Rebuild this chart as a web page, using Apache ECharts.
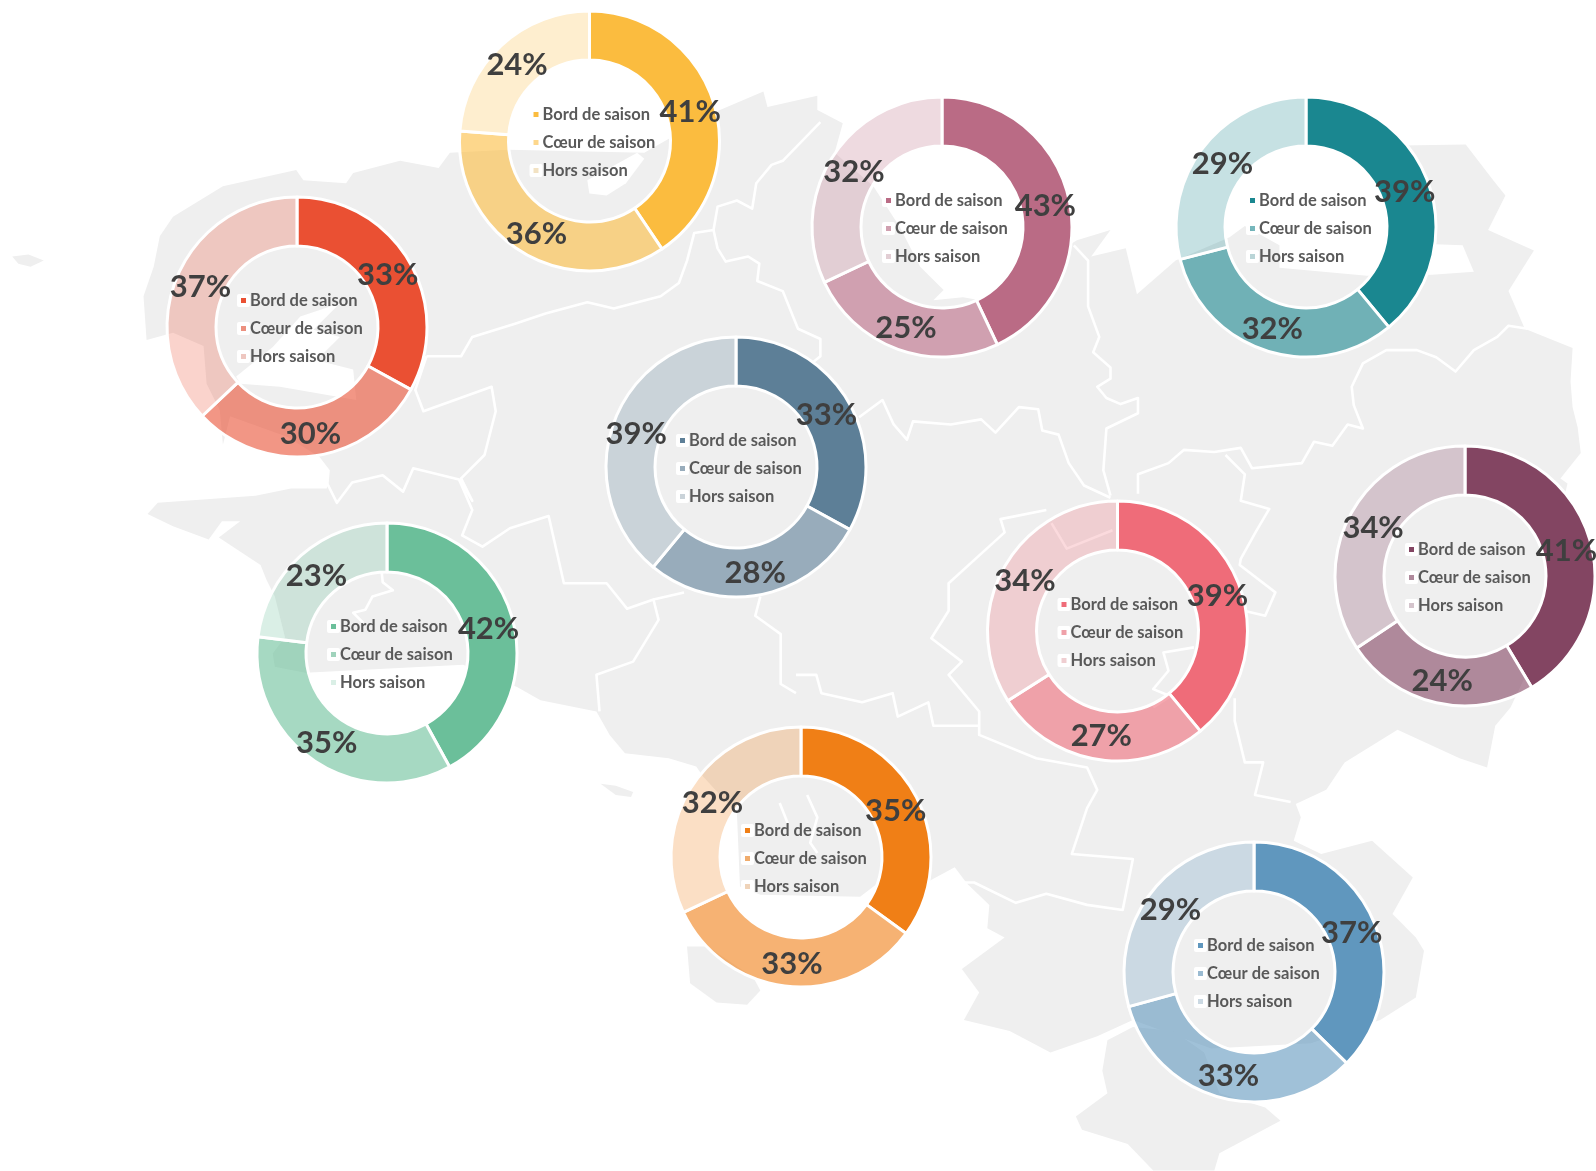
<!DOCTYPE html>
<html lang="fr">
<head>
<meta charset="utf-8">
<style>html,body{margin:0;padding:0;background:#fff}#c{width:1596px;height:1171px}</style>
<script src="https://cdn.jsdelivr.net/npm/echarts@6/dist/echarts.min.js"></script>
</head>
<body>
<div id="c"></div>
<script>
// ---- data ----
const categories = ['Bord de saison', 'Cœur de saison', 'Hors saison'];
const red    = [33, 30, 37];
const yellow = [41, 36, 24];
const rose   = [43, 25, 32];
const teal   = [39, 32, 29];
const slate  = [33, 28, 39];
const green  = [42, 35, 23];
const pink   = [39, 27, 34];
const plum   = [41, 24, 34];
const orange = [35, 33, 32];
const blue   = [37, 33, 29];

// ---- layout and styling of each donut ----
const S = 1596 / 1568;           // traced in the 1568-wide view
const donuts = [
  {v: red,    c: [234, 80, 51],   at: [297, 327],   lab: [[381,270],[305,426],[197,282]]},
  {v: yellow, c: [251, 188, 63],  at: [589.5, 141], lab: [[678,110],[527,230],[508,64]]},
  {v: rose,   c: [186, 107, 133], at: [942, 227],   lab: [[1027,202],[890,322],[839,169]]},
  {v: teal,   c: [26, 135, 144],  at: [1306, 227],  lab: [[1380,189],[1250,323],[1201,161]]},
  {v: slate,  c: [93, 127, 151],  at: [736, 467],   lab: [[812,408],[742,563],[625,426]]},
  {v: green,  c: [107, 191, 154], at: [387, 653],   lab: [[480,618],[321,730],[311,566]]},
  {v: pink,   c: [239, 108, 121], at: [1117.5, 631],lab: [[1196,586],[1082,723],[1007,571]]},
  {v: plum,   c: [131, 69, 98],   at: [1465, 576],  lab: [[1539,541],[1417,669],[1349,519]]},
  {v: orange, c: [240, 127, 22],  at: [801, 857],   lab: [[880,797],[778,947],[700,789]]},
  {v: blue,   c: [96, 151, 190],  at: [1254, 972],  lab: [[1328,917],[1207,1057],[1150,894]]}
];
const alphas = [1, 0.6, 0.25];
const FONT = 'Lato,sans-serif';

// ---- decorative background map, traced ----
const mainland = [[141,291],[151,262],[157,232],[170,213],[219,183],[291,167],[298,177],[340,180],[347,170],[393,158],[431,165],[442,150],[500,147],[633,150],[705,109],[750,90],[754,105],[803,94],[803,108],[828,121],[820,150],[858,183],[884,223],[904,262],[927,285],[917,295],[946,292],[963,295],[1058,236],[1091,226],[1072,252],[1106,244],[1117,289],[1155,256],[1208,233],[1223,222],[1257,241],[1257,263],[1343,271],[1407,270],[1448,267],[1437,241],[1410,240],[1390,200],[1377,143],[1440,142],[1467,177],[1479,192],[1462,226],[1507,246],[1482,286],[1498,323],[1545,342],[1543,375],[1545,400],[1550,420],[1553,445],[1533,470],[1540,475],[1520,560],[1510,640],[1484,695],[1469,713],[1461,754],[1434,745],[1373,717],[1321,749],[1303,776],[1273,790],[1278,803],[1271,826],[1298,839],[1348,826],[1388,862],[1368,898],[1391,921],[1399,934],[1391,980],[1356,1002],[1288,1025],[1190,1030],[1113,1002],[1078,1018],[1032,1034],[992,1013],[947,1002],[962,975],[945,952],[987,921],[970,912],[972,889],[950,868],[938,852],[912,866],[862,868],[845,881],[747,879],[727,871],[724,799],[691,763],[684,753],[657,745],[614,740],[599,722],[586,699],[531,688],[508,675],[455,653],[300,661],[270,655],[268,642],[280,626],[270,586],[262,570],[256,555],[215,528],[236,512],[218,512],[205,530],[170,517],[145,505],[155,494],[251,487],[286,480],[321,480],[323,474],[324,462],[314,449],[282,429],[226,409],[219,437],[216,403],[203,377],[200,340],[170,327],[144,334]];
const south = [[1088,1022],[1113,1009],[1153,1013],[1183,1034],[1198,1074],[1243,1088],[1258,1101],[1198,1133],[1193,1150],[1133,1150],[1108,1124],[1063,1110],[1057,1097],[1088,1074],[1083,1052]];
const corsica = [[675,930],[695,930],[740,960],[747,973],[734,987],[704,985],[678,966]];
const isle1 = [[590,770],[605,772],[622,778],[620,783],[605,781]];
const isle2 = [[12,252],[28,250],[43,256],[30,262],[18,259]];
const whiteShapes = [
  [[577,177],[626,150],[633,156],[615,180],[596,192],[579,190]],
  [[232,370],[268,341],[295,311],[334,298],[308,324],[334,331],[311,354],[347,363],[350,393],[275,380],[236,377]]
];
const borders = [
  [[419,350],[453,350],[464,331],[506,318],[536,308],[577,297],[603,303],[649,291],[667,278],[675,256],[682,229],[701,226],[705,203],[724,197],[739,205],[743,180],[758,162],[769,158],[806,120]],
  [[701,226],[705,244],[713,257],[735,252],[746,259],[744,276],[769,286],[784,323],[806,333],[806,350],[796,358]],
  [[844,410],[867,393],[878,417],[891,432],[897,414],[934,417],[964,412],[978,425],[1001,400],[1020,402],[1024,423],[1040,427],[1050,455],[1065,477],[1091,489]],
  [[1055,241],[1069,256],[1069,301],[1080,331],[1074,346],[1091,361],[1091,372],[1078,380],[1087,391],[1101,397],[1118,391],[1118,406],[1087,421],[1084,462],[1091,487]],
  [[1118,485],[1118,466],[1148,455],[1163,442],[1193,444],[1219,440],[1230,460],[1279,455],[1291,434],[1309,438],[1324,417],[1339,421],[1330,398],[1328,380],[1339,357],[1362,344],[1392,344],[1411,351],[1430,365],[1448,344],[1471,331],[1482,320],[1501,323]],
  [[1204,447],[1223,466],[1219,492],[1247,500],[1234,522],[1219,549],[1218,555],[1253,582],[1243,605],[1222,600]],
  [[1213,686],[1213,708],[1223,749],[1241,749],[1233,781],[1268,788]],
  [[1028,501],[983,510],[987,523],[932,573],[932,600],[915,627],[945,650],[932,663],[962,699],[962,722],[1018,745],[1068,754],[1078,776],[1068,794],[1053,839],[1113,844],[1103,894],[1068,889],[1028,878],[998,887],[957,867],[920,867]],
  [[782,663],[802,663],[807,681],[847,690],[877,681],[882,704],[912,690],[917,713],[962,713]],
  [[747,586],[742,605],[767,623],[767,672],[782,681]],
  [[321,474],[331,494],[346,474],[376,467],[396,483],[406,460],[451,471],[464,501],[454,526],[474,537],[501,519],[539,507],[554,573],[596,573],[616,598],[642,589],[647,609],[622,650],[586,663],[589,699]],
  [[419,350],[408,383],[416,404],[483,380],[487,404],[476,447],[453,470],[464,492],[451,471]],
  [[642,589],[672,582]],
  [[375,562],[376,572],[386,580],[366,586],[359,599],[347,602],[357,612]],
  [[766,789],[774,809]],
  [[793,781],[803,803],[796,828],[803,838]],
  [[1173,636],[1143,641],[1148,659],[1133,677],[1150,684],[1133,695]],
  [[1033,514],[1048,539],[1093,521]]
];
const sc = pts => pts.map(p => [p[0] * S, p[1] * S]);
const GRAY = '#efefef';
const graphics = [];
[mainland, south, corsica, isle1, isle2].forEach(p => graphics.push({
  type: 'polygon', silent: true, z: 0, shape: {points: sc(p)}, style: {fill: GRAY}
}));
whiteShapes.forEach(p => graphics.push({
  type: 'polygon', silent: true, z: 1, shape: {points: sc(p)}, style: {fill: '#fff'}
}));
borders.forEach(p => graphics.push({
  type: 'polyline', silent: true, z: 1, shape: {points: sc(p)},
  style: {stroke: '#fff', lineWidth: 2.6, fill: null, lineJoin: 'round'}
}));

const rgba = (c, a) => `rgba(${c[0]},${c[1]},${c[2]},${a})`;

const series = donuts.map(d => ({
  type: 'pie',
  center: d.at,
  radius: [81, 130],
  startAngle: 90,
  clockwise: true,
  avoidLabelOverlap: false,
  animation: false,
  silent: true,
  z: 3,
  itemStyle: {borderColor: '#fff', borderWidth: 3},
  label: {
    show: true, position: 'inside', formatter: p => p.value + '%',
    fontFamily: FONT, fontWeight: 'bold', fontSize: 31, color: '#3f3f3f'
  },
  labelLine: {show: false},
  labelLayout: p => ({
    x: d.lab[p.dataIndex][0] * S, y: d.lab[p.dataIndex][1] * S,
    align: 'center', verticalAlign: 'middle'
  }),
  data: categories.map((name, i) => ({
    name, value: d.v[i], itemStyle: {color: rgba(d.c, alphas[i])}
  }))
}));

const legends = donuts.map(d => ({
  show: true, orient: 'vertical', selectedMode: false,
  left: d.at[0] - 60, top: d.at[1] - 35, padding: 0,
  itemWidth: 9, itemHeight: 9, itemGap: 11, icon: 'rect',
  textStyle: {fontFamily: FONT, fontWeight: 'bold', fontSize: 16.5, lineHeight: 16, color: '#595959', padding: [0, 0, 0, -3]},
  data: categories.map((name, i) => ({
    name,
    itemStyle: {color: rgba(d.c, alphas[i]), borderColor: '#fff', borderWidth: 4}
  }))
}));

const chart = echarts.init(document.getElementById('c'), null, {renderer: 'canvas', width: 1596, height: 1171});
chart.setOption({
  animation: false,
  backgroundColor: '#fff',
  graphic: {elements: graphics},
  legend: legends,
  series
});
</script>
</body>
</html>
